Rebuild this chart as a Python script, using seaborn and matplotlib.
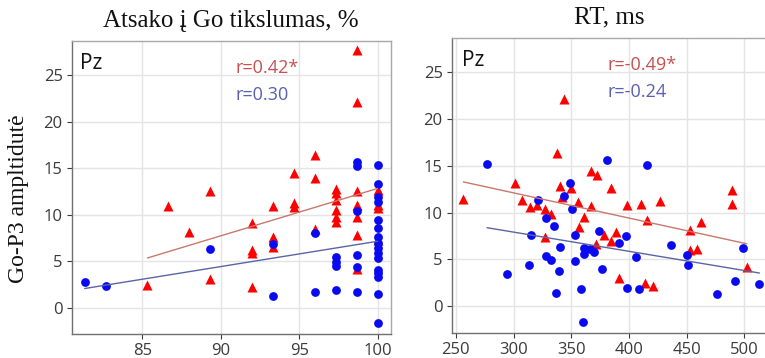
import matplotlib
matplotlib.use("Agg")
import matplotlib.pyplot as plt
import seaborn as sns

# ---- Left panel: accuracy (%) vs Go-P3 amplitude ----
acc_red_x = [85.33, 86.67, 88.0, 89.33, 89.33, 92.0, 92.0, 92.0, 92.0,
             93.33, 93.33, 93.33, 94.67, 94.67, 94.67, 96.0, 96.0, 96.0,
             97.33, 97.33, 97.33, 97.33, 97.33, 97.33,
             98.67, 98.67, 98.67, 98.67, 98.67, 98.67, 98.67,
             100.0, 100.0, 100.0, 100.0]
acc_red_y = [2.44, 10.9, 8.17, 12.5, 3.05, 9.07, 6.2, 5.85, 2.26,
             10.9, 7.6, 6.5, 14.45, 11.3, 10.8, 16.4, 14.0, 8.5,
             12.8, 12.3, 11.6, 10.5, 9.7, 9.25,
             27.7, 22.15, 12.5, 11.0, 9.8, 7.8, 4.1,
             12.7, 11.0, 10.7, 7.3]

acc_blue_x = [81.33, 82.67, 89.33, 93.33, 93.33, 96.0, 96.0,
              97.33, 97.33, 97.33, 97.33,
              98.67, 98.67, 98.67, 98.67, 98.67, 98.67,
              100.0, 100.0, 100.0, 100.0, 100.0, 100.0, 100.0, 100.0,
              100.0, 100.0, 100.0, 100.0, 100.0, 100.0, 100.0, 100.0]
acc_blue_y = [2.73, 2.33, 6.28, 6.85, 1.29, 8.03, 1.72,
              5.45, 4.95, 4.45, 1.9,
              15.7, 15.2, 10.4, 5.67, 4.4, 1.72,
              15.3, 13.3, 11.9, 11.4, 9.4, 8.6, 7.6, 6.9,
              6.4, 5.85, 5.3, 4.05, 3.7, 3.3, 1.47, -1.68]

# ---- Right panel: RT (ms) vs Go-P3 amplitude ----
rt_red_x = [256.5, 301.5, 307.5, 314, 320, 327, 332.5, 327, 337.7, 343.5,
            340.5, 342, 350, 356, 361, 357, 367.5, 372, 367.5, 371,
            378, 384, 388.5, 384, 398, 410, 415.5, 391.5, 413.5, 421,
            427, 453, 453, 459, 462.5, 489.3, 489.3, 502]
rt_red_y = [11.5, 13.15, 11.3, 10.6, 10.85, 10.4, 9.9, 7.4, 16.4, 22.15,
            12.9, 11.7, 12.6, 11.1, 9.55, 8.45, 14.5, 14.05, 10.75, 6.6,
            7.6, 6.95, 7.9, 12.65, 10.8, 10.95, 9.25, 3.05, 2.43, 2.14,
            11.2, 8.14, 6.0, 6.15, 9.0, 12.4, 10.9, 4.15]

rt_blue_x = [277, 294, 313, 315, 321, 328, 328, 332, 335, 339,
             337, 340, 344, 349, 351, 353, 353, 358, 360, 361,
             366, 361, 370, 374, 377, 381, 391, 397, 398, 406,
             409, 416, 436, 450, 451, 476, 492, 499, 513]
rt_blue_y = [15.2, 3.4, 4.4, 7.6, 11.35, 9.4, 5.35, 4.95, 8.6, 3.7,
             1.45, 6.35, 11.8, 13.2, 10.4, 4.8, 7.6, 1.8, -1.7, 6.2,
             6.1, 5.6, 5.75, 8.0, 3.95, 15.6, 6.8, 7.5, 1.9, 5.2,
             1.8, 15.05, 6.5, 5.45, 4.4, 1.3, 2.7, 6.2, 2.35]

titles = ["Atsako į Go tikslumas, %", "RT, ms"]
ylabel = "Go-P3 ampltidutė"
electrode = "Pz"
r_red = ["r=0.42*", "r=-0.49*"]
r_blue = ["r=0.30", "r=-0.24"]
yticks = [0, 5, 10, 15, 20, 25]
xticks_acc = [85, 90, 95, 100]
xticks_rt = [250, 300, 350, 400, 450, 500]

sns.set_style("whitegrid", {"grid.color": "#e4e4e4", "axes.edgecolor": "#9a9a9a"})
plt.rcParams['font.family'] = ['Open Sans', 'DejaVu Sans']

fig = plt.figure(figsize=(7.65, 3.58), dpi=100)
ax1 = fig.add_axes([0.0937, 0.067, 0.4173, 0.819])
ax2 = fig.add_axes([0.5905, 0.0707, 0.412, 0.824])

RED = "#ff0000"
BLUE = "#0a0af0"
RED_LINE = "#c8786c"
BLUE_LINE = "#5a64a6"
R_TXT_RED = "#c85050"
R_TXT_BLUE = "#5a5fb0"

panels = [
    (ax1, acc_red_x, acc_red_y, acc_blue_x, acc_blue_y, xticks_acc, (80.5, 100.85)),
    (ax2, rt_red_x, rt_red_y, rt_blue_x, rt_blue_y, xticks_rt, (246.4, 519.5)),
]

for i, (ax, rx, ry, bx, by, xt, xl) in enumerate(panels):
    sns.regplot(x=rx, y=ry, ax=ax, ci=None, marker='^',
                scatter_kws=dict(s=52, color=RED, linewidths=0, alpha=1, zorder=3),
                line_kws=dict(color=RED_LINE, lw=1.0, zorder=5))
    sns.regplot(x=bx, y=by, ax=ax, ci=None, marker='o',
                scatter_kws=dict(s=40, color=BLUE, linewidths=0, alpha=1, zorder=4),
                line_kws=dict(color=BLUE_LINE, lw=1.0, zorder=5))
    ax.set_xlim(*xl)
    ax.set_ylim(-2.85, 28.72)
    ax.set_xticks(xt)
    ax.set_yticks(yticks)
    ax.grid(True, color="#e4e4e4", lw=1)
    ax.set_axisbelow(True)
    ax.tick_params(axis='both', labelsize=12, colors='#3a3a3a', length=3.5,
                   bottom=True, left=True, pad=3)
    for s in ['left', 'bottom']:
        ax.spines[s].set_color('#707070')
        ax.spines[s].set_linewidth(1.0)
    for s in ['top', 'right']:
        ax.spines[s].set_color('#a8a8a8')
        ax.spines[s].set_linewidth(1.0)
    ax.set_title(titles[i], fontfamily='Liberation Serif', fontsize=18, pad=10,
                 color='#111111')
    ax.text(0.026 if i == 0 else 0.032, 0.922, electrode, transform=ax.transAxes,
            fontsize=15, va='center', ha='left', color='#111111')
    rxpos = 0.512 if i == 0 else 0.495
    ax.text(rxpos, 0.908, r_red[i], transform=ax.transAxes, fontsize=13,
            va='center', ha='left', color=R_TXT_RED)
    ax.text(rxpos, 0.815, r_blue[i], transform=ax.transAxes, fontsize=13,
            va='center', ha='left', color=R_TXT_BLUE)
    ax.set_xlabel("")

ax1.set_ylabel(ylabel, fontfamily='Liberation Serif', fontsize=17,
               color='#111111')
ax1.yaxis.set_label_coords(-0.135, 0.462)
ax2.set_ylabel("")

fig.savefig("out.png", dpi=100)
